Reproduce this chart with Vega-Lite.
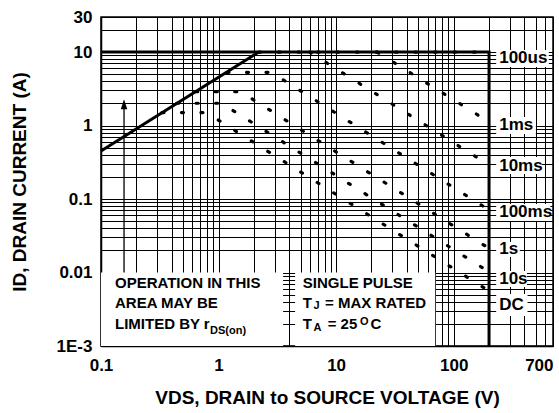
{
  "$schema": "https://vega.github.io/schema/vega-lite/v6.json",
  "width": 452,
  "height": 329,
  "autosize": {"type": "none"},
  "padding": {"left": 101, "top": 17, "right": 6, "bottom": 67},
  "background": "white",
  "config": {"view": {"stroke": "#000", "strokeWidth": 1.5}, "font": "Liberation Sans"},
  "datasets": {
    "boxes": [
      {"x": 0.1, "x2": 3.54, "y": 0.001, "y2": 0.01},
      {"x": 4.48, "x2": 69.7, "y": 0.001, "y2": 0.01},
      {"x": 230, "x2": 645, "y": 6.26, "y2": 10.7},
      {"x": 230, "x2": 500, "y": 0.768, "y2": 1.31},
      {"x": 230, "x2": 560, "y": 0.219, "y2": 0.373},
      {"x": 230, "x2": 665, "y": 0.0504, "y2": 0.0857},
      {"x": 230, "x2": 365, "y": 0.0163, "y2": 0.0261},
      {"x": 230, "x2": 420, "y": 0.00635, "y2": 0.0105},
      {"x": 230, "x2": 425, "y": 0.00256, "y2": 0.0051}
    ],
    "labels": [
      {"label": "100us", "x": 244, "y": 8.3},
      {"label": "1ms", "x": 244, "y": 1.02},
      {"label": "10ms", "x": 244, "y": 0.284},
      {"label": "100ms", "x": 244, "y": 0.066},
      {"label": "1s", "x": 244, "y": 0.0207},
      {"label": "10s", "x": 244, "y": 0.00817},
      {"label": "DC", "x": 244, "y": 0.00362}
    ],
    "limit": [
      {"g": "lim", "i": 1, "x": 0.1, "y": 10},
      {"g": "lim", "i": 2, "x": 200, "y": 10},
      {"g": "lim", "i": 3, "x": 200, "y": 0.001},
      {"g": "rds", "i": 1, "x": 0.1, "y": 0.45},
      {"g": "rds", "i": 2, "x": 2.2, "y": 10}
    ],
    "curves": [
      {"c": "100us", "i": 1, "x": 2.2, "y": 10},
      {"c": "100us", "i": 2, "x": 200, "y": 10},
      {"c": "1ms", "i": 1, "x": 22.3, "y": 10},
      {"c": "1ms", "i": 2, "x": 200, "y": 1.12},
      {"c": "10ms", "i": 1, "x": 5.94, "y": 10},
      {"c": "10ms", "i": 2, "x": 200, "y": 0.29},
      {"c": "100ms", "i": 1, "x": 1.18, "y": 5.3},
      {"c": "100ms", "i": 2, "x": 2.81, "y": 5.3},
      {"c": "100ms", "i": 3, "x": 200, "y": 0.071},
      {"c": "1s", "i": 1, "x": 0.64, "y": 2.89},
      {"c": "1s", "i": 2, "x": 1.54, "y": 2.89},
      {"c": "1s", "i": 3, "x": 200, "y": 0.0213},
      {"c": "10s", "i": 1, "x": 0.44, "y": 2.01},
      {"c": "10s", "i": 2, "x": 1.06, "y": 2.01},
      {"c": "10s", "i": 3, "x": 200, "y": 0.0102},
      {"c": "DC", "i": 1, "x": 0.33, "y": 1.5},
      {"c": "DC", "i": 2, "x": 0.79, "y": 1.5},
      {"c": "DC", "i": 3, "x": 200, "y": 0.0056}
    ],
    "arrow": [{"x": 0.157, "y": 0.01, "y2": 1.95}],
    "notes": [
      {"t": "OPERATION IN THIS", "x": 0.1315, "y": 0.00718},
      {"t": "AREA MAY BE", "x": 0.1315, "y": 0.00379},
      {"t": "LIMITED BY r", "x": 0.1315, "y": 0.002},
      {"t": "SINGLE PULSE", "x": 5.21, "y": 0.00718},
      {"t": "T", "x": 5.21, "y": 0.00379},
      {"t": "= MAX RATED", "x": 8.06, "y": 0.00379},
      {"t": "T", "x": 5.21, "y": 0.002},
      {"t": "= 25", "x": 8.48, "y": 0.002},
      {"t": "C", "x": 19.6, "y": 0.002}
    ],
    "subs": [
      {"t": "DS(on)", "x": 0.847, "y": 0.00162},
      {"t": "J", "x": 6.41, "y": 0.00351},
      {"t": "A", "x": 6.41, "y": 0.001746},
      {"t": "O", "x": 16.0, "y": 0.00214}
    ]
  },
  "encoding": {
    "x": {
      "field": "x",
      "type": "quantitative",
      "scale": {"type": "log", "domain": [0.1, 700], "nice": false},
      "axis": {
        "values": [0.1,0.2,0.3,0.4,0.5,0.6,0.7,0.8,0.9,1,2,3,4,5,6,7,8,9,10,20,30,40,50,60,70,80,90,100,200,300,400,500,600,700],
        "labelExpr": "datum.value==0.1?'0.1':datum.value==1?'1':datum.value==10?'10':datum.value==100?'100':datum.value==700?'700':''",
        "grid": true, "gridColor": "#000", "gridOpacity": 1, "gridWidth": 1,
        "tickSize": -5, "tickColor": "#000", "tickWidth": 1,
        "domainColor": "#000", "domainWidth": 1.5,
        "labelFont": "Liberation Sans", "labelFontWeight": "bold", "labelFontSize": 17, "labelColor": "#000",
        "labelPadding": 16, "labelFlush": false, "labelOverlap": false,
        "labelAlign": {"condition": {"test": "datum.value >= 700", "value": "right"}, "value": "center"},
        "title": "VDS, DRAIN to SOURCE VOLTAGE (V)",
        "titleFont": "Liberation Sans", "titleFontSize": 19, "titleFontWeight": "bold", "titleColor": "#000",
        "titlePadding": 15
      }
    },
    "y": {
      "field": "y",
      "type": "quantitative",
      "scale": {"type": "log", "domain": [0.001, 30], "nice": false},
      "axis": {
        "values": [0.001,0.002,0.003,0.004,0.005,0.006,0.007,0.008,0.009,0.01,0.02,0.03,0.04,0.05,0.06,0.07,0.08,0.09,0.1,0.2,0.3,0.4,0.5,0.6,0.7,0.8,0.9,1,2,3,4,5,6,7,8,9,10,20,30],
        "labelExpr": "datum.value==30?'30':datum.value==10?'10':datum.value==1?'1':datum.value==0.1?'0.1':datum.value==0.01?'0.01':datum.value==0.001?'1E-3':''",
        "grid": true, "gridColor": "#000", "gridOpacity": 1, "gridWidth": 1,
        "tickSize": -5, "tickColor": "#000", "tickWidth": 1,
        "domainColor": "#000", "domainWidth": 1.5,
        "labelFont": "Liberation Sans", "labelFontWeight": "bold", "labelFontSize": 17, "labelColor": "#000",
        "labelPadding": 14, "labelFlush": false, "labelOverlap": false,
        "title": "ID, DRAIN CURRENT (A)",
        "titleFont": "Liberation Sans", "titleFontSize": 19, "titleFontWeight": "bold", "titleColor": "#000",
        "titlePadding": 27
      }
    }
  },
  "layer": [
    {
      "data": {"name": "boxes"},
      "mark": {"type": "rect", "color": "white", "stroke": null},
      "encoding": {"x2": {"field": "x2"}, "y2": {"field": "y2"}}
    },
    {
      "data": {"name": "curves"},
      "mark": {"type": "line", "color": "#000", "strokeWidth": 3.2, "strokeDash": [2, 17.5], "strokeCap": "round"},
      "encoding": {"detail": {"field": "c"}, "order": {"field": "i"}}
    },
    {
      "data": {"name": "limit"},
      "mark": {"type": "line", "color": "#000", "strokeWidth": 3},
      "encoding": {"detail": {"field": "g"}, "order": {"field": "i"}}
    },
    {
      "data": {"name": "arrow"},
      "mark": {"type": "rule", "color": "#000", "strokeWidth": 1.3},
      "encoding": {"y2": {"field": "y2"}}
    },
    {
      "data": {"name": "arrow"},
      "mark": {"type": "point", "shape": "M0,-1L0.65,1L-0.65,1Z", "size": 100, "filled": true, "color": "#000", "opacity": 1},
      "encoding": {"y": {"field": "y2", "type": "quantitative"}}
    },
    {
      "data": {"name": "labels"},
      "mark": {"type": "text", "align": "left", "baseline": "middle", "font": "Liberation Sans", "fontWeight": "bold", "fontSize": 17, "color": "#000"},
      "encoding": {"text": {"field": "label"}}
    },
    {
      "data": {"name": "notes"},
      "mark": {"type": "text", "align": "left", "baseline": "middle", "font": "Liberation Sans", "fontWeight": "bold", "fontSize": 15, "color": "#000"},
      "encoding": {"text": {"field": "t"}}
    },
    {
      "data": {"name": "subs"},
      "mark": {"type": "text", "align": "left", "baseline": "middle", "font": "Liberation Sans", "fontWeight": "bold", "fontSize": 11, "color": "#000"},
      "encoding": {"text": {"field": "t"}}
    }
  ]
}
